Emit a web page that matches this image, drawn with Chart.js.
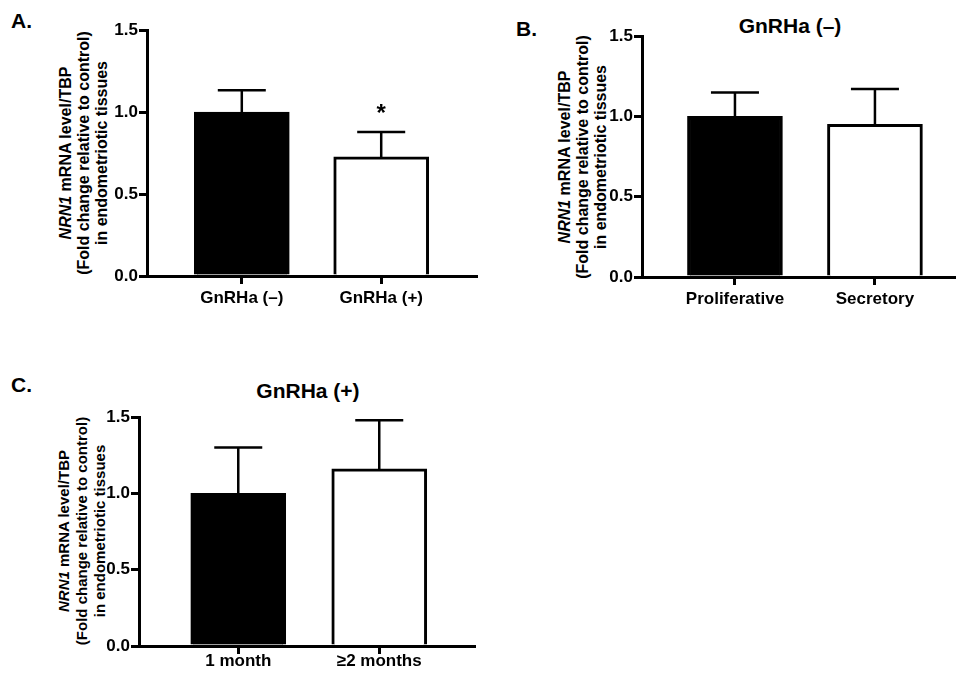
<!DOCTYPE html>
<html>
<head>
<meta charset="utf-8">
<script src="https://cdn.jsdelivr.net/npm/chart.js@4.4.0/dist/chart.umd.min.js"></script>
<style>
  body { margin: 0; background: #fff; width: 956px; height: 675px; overflow: hidden; position: relative;
         font-family: "Liberation Sans", Arial, sans-serif; font-weight: bold; color: #000; }
  canvas { position: absolute; }
  .lbl { position: absolute; font-size: 21px; line-height: 1; }
  .ttl { position: absolute; font-size: 21px; line-height: 1; width: 200px; text-align: center; }
  .ytitle { position: absolute; width: 280px; height: 54px; font-size: 16px; line-height: 18px;
            text-align: center; white-space: nowrap; transform: rotate(-90deg); }
</style>
</head>
<body>
<div class="lbl" style="left:11px;top:10px">A.</div>
<div class="lbl" style="left:516px;top:18px">B.</div>
<div class="lbl" style="left:11px;top:374px">C.</div>
<div class="ttl" style="left:690px;top:15px">GnRHa (–)</div>
<div class="ttl" style="left:208px;top:380px">GnRHa (+)</div>

<div class="ytitle" style="left:-56px;top:126px"><i>NRN1</i> mRNA level/TBP<br>(Fold change relative to control)<br>in endometriotic tissues</div>
<div class="ytitle" style="left:443px;top:130px"><i>NRN1</i> mRNA level/TBP<br>(Fold change relative to control)<br>in endometriotic tissues</div>
<div class="ytitle" style="left:-58px;top:504px;font-size:15px;line-height:18px"><i>NRN1</i> mRNA level/TBP<br>(Fold change relative to control)<br>in endometriotic tissues</div>

<canvas id="chartA" width="480" height="320" style="left:0;top:0"></canvas>
<canvas id="chartB" width="466" height="320" style="left:490px;top:0"></canvas>
<canvas id="chartC" width="480" height="315" style="left:0;top:360px"></canvas>

<script>
// panel A
const catsA = ['GnRHa (–)', 'GnRHa (+)'];
const meanA = [1.0, 0.726];
const semA = [0.132, 0.152];
const starsA = ['', '*'];

// panel B
const catsB = ['Proliferative', 'Secretory'];
const meanB = [1.0, 0.95];
const semB = [0.149, 0.22];

// panel C
const catsC = ['1 month', '≥2 months'];
const meanC = [1.0, 1.16];
const semC = [0.30, 0.318];

const yTicks = [0, 0.5, 1.0, 1.5];
const barColors = ['#000000', '#ffffff'];

const FONT = '"Liberation Sans", Arial, sans-serif';

// upward SEM bars + significance star
const errorBars = {
    id: 'errorBars',
    afterDatasetsDraw(chart) {
        const ctx = chart.ctx;
        const yScale = chart.scales.y;
        chart.data.datasets.forEach((ds, di) => {
            chart.getDatasetMeta(di).data.forEach((bar, i) => {
                const top = yScale.getPixelForValue(ds.data[i].y + ds.sem[i]);
                ctx.save();
                ctx.strokeStyle = '#000';
                ctx.lineWidth = 2.5;
                ctx.beginPath();
                ctx.moveTo(bar.x, bar.y);
                ctx.lineTo(bar.x, top);
                ctx.moveTo(bar.x - 24, top);
                ctx.lineTo(bar.x + 24, top);
                ctx.stroke();
                if (ds.stars && ds.stars[i]) {
                    ctx.fillStyle = '#000';
                    ctx.font = 'bold 24px ' + FONT;
                    ctx.textAlign = 'center';
                    ctx.textBaseline = 'alphabetic';
                    ctx.fillText(ds.stars[i], bar.x, top - 11);
                }
                ctx.restore();
            });
        });
    }
};

function panel(id, cats, means, sems, stars, box) {
    const W = 60, H = 36;
    const axisGrid = { drawOnChartArea: false, offset: false, tickLength: 8, tickColor: '#000', tickWidth: 3, lineWidth: 3 };
    const canvas = document.getElementById(id);
    new Chart(canvas.getContext('2d'), {
        type: 'bar',
        data: {
            datasets: [{
                data: cats.map((c, i) => ({ x: i, y: means[i] })),
                sem: sems,
                stars: stars,
                backgroundColor: barColors,
                borderColor: '#000',
                borderWidth: 3,
                barThickness: 95
            }]
        },
        options: {
            responsive: false,
            animation: false,
            devicePixelRatio: 1,
            layout: {
                padding: {
                    left: box.left - W,
                    right: canvas.width - box.right,
                    top: box.top,
                    bottom: canvas.height - box.bottom - H
                }
            },
            plugins: { legend: { display: false }, tooltip: { enabled: false } },
            scales: {
                x: {
                    type: 'linear',
                    offset: false,
                    min: box.xMin,
                    max: box.xMax,
                    afterBuildTicks: s => { s.ticks = cats.map((c, i) => ({ value: i })); },
                    afterFit: s => { s.height = H; },
                    ticks: {
                        callback: v => cats[v],
                        color: '#000',
                        font: { family: FONT, size: 17, weight: 'bold' },
                        padding: box.labelPad,
                        maxRotation: 0,
                        autoSkip: false
                    },
                    grid: axisGrid,
                    border: { color: '#000', width: 3 }
                },
                y: {
                    min: 0,
                    max: 1.5,
                    afterBuildTicks: s => { s.ticks = yTicks.map(v => ({ value: v })); },
                    afterFit: s => { s.width = W; },
                    ticks: {
                        callback: v => v.toFixed(1),
                        color: '#000',
                        font: { family: FONT, size: 17, weight: 'bold' },
                        padding: 1
                    },
                    grid: axisGrid,
                    border: { color: '#000', width: 3 }
                }
            }
        },
        plugins: [errorBars]
    });
}

panel('chartA', catsA, meanA, semA, starsA, { left: 147, right: 476, top: 30, bottom: 276, xMin: -0.68, xMax: 1.68, labelPad: 4 });
panel('chartB', catsB, meanB, semB, null, { left: 152, right: 466, top: 36, bottom: 277, xMin: -0.664, xMax: 1.579, labelPad: 4 });
panel('chartC', catsC, meanC, semC, null, { left: 139, right: 474, top: 57, bottom: 286, xMin: -0.704, xMax: 1.672, labelPad: -3 });
</script>
</body>
</html>
